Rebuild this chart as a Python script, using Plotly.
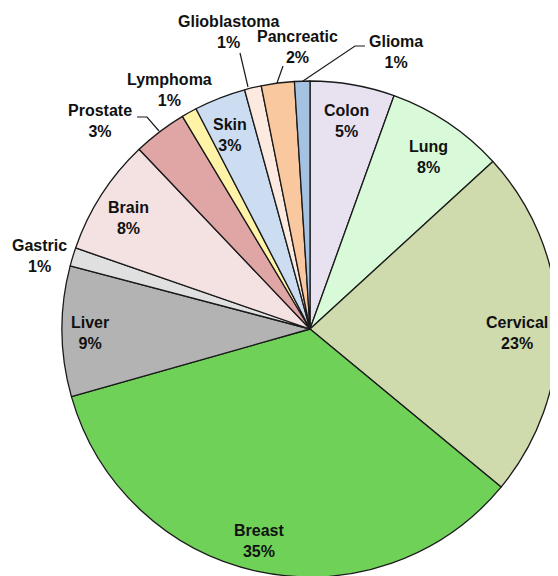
import plotly.graph_objects as go

# slice data, clockwise from 12 o'clock
cancers = ["Colon", "Lung", "Cervical", "Breast", "Liver", "Gastric", "Brain",
           "Prostate", "Lymphoma", "Skin", "Glioblastoma", "Pancreatic", "Glioma"]
shares = [5.5, 7.7, 22.8, 34.6, 8.5, 1.2, 7.6, 3.5, 1.0, 3.35, 1.1, 2.15, 1.0]
pct_labels = ["5%", "8%", "23%", "35%", "9%", "1%", "8%",
              "3%", "1%", "3%", "1%", "2%", "1%"]

colors = ["#E8E2F0", "#D8FAD8", "#CFDBAD", "#70D158", "#B3B3B3", "#E0E0E0", "#F4E1E1",
          "#E0A6A6", "#FFF3A8", "#CCDDF2", "#FCEAE0", "#FAC89E", "#A6C2E2"]

# the page body has an 8px margin, so the figure starts at (8, 8) in the window
OFF = 8
W, H = 558 - OFF, 578 - OFF

# label centres in window pixels (x from left, y from top)
label_pos = {
    "Colon": (346, 121), "Lung": (428, 157), "Cervical": (517, 333),
    "Breast": (259, 541), "Liver": (90, 333), "Gastric": (39, 256),
    "Brain": (128, 218), "Prostate": (100, 121), "Lymphoma": (169, 90),
    "Skin": (230, 135), "Glioblastoma": (228, 32), "Pancreatic": (297, 47),
    "Glioma": (396, 52),
}

# leader lines (window pixels)
leaders = [
    [(240, 53), (248, 87)],
    [(283, 66), (277, 83)],
    [(365, 46), (355, 46), (303, 81)],
    [(137, 117), (147, 117), (159, 131)],
]


def px(x):
    return (x - OFF) / W


def py(y):
    return 1 - (y - OFF) / H


fig = go.Figure(go.Pie(
    labels=cancers,
    values=shares,
    sort=False,
    direction="clockwise",
    rotation=0,
    textinfo="none",
    hoverinfo="label+percent",
    marker=dict(colors=colors, line=dict(color="#1a1a1a", width=1.3)),
    domain=dict(x=[px(62), px(558)], y=[py(577), py(81)]),
    showlegend=False,
))

annotations = []
for name, pct in zip(cancers, pct_labels):
    x, y = label_pos[name]
    annotations.append(dict(
        x=px(x), y=py(y), xref="paper", yref="paper",
        text=f"{name}<br>{pct}", showarrow=False,
        xanchor="center", yanchor="middle",
        font=dict(family="Liberation Sans, Arial", size=16, color="#111111", weight="bold"),
    ))

shapes = []
for pts in leaders:
    path = "M " + " L ".join(f"{px(x)},{py(y)}" for x, y in pts)
    shapes.append(dict(type="path", path=path, xref="paper", yref="paper",
                       line=dict(color="#1a1a1a", width=1.2)))

fig.update_layout(
    width=W, height=H,
    margin=dict(l=0, r=0, t=0, b=0),
    paper_bgcolor="white",
    plot_bgcolor="white",
    annotations=annotations,
    shapes=shapes,
)

fig.write_html("out.html")
